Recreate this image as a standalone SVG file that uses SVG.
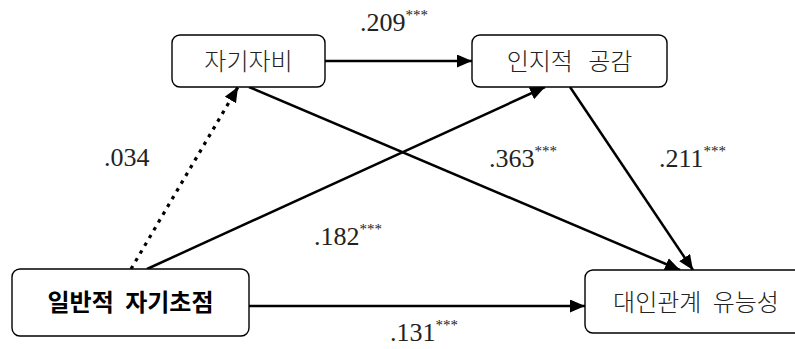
<svg xmlns="http://www.w3.org/2000/svg" width="795" height="349" viewBox="0 0 795 349">
<style>
.box{fill:#fff;stroke:#000;stroke-width:1.4}
.kt{font-family:"Noto Sans CJK KR","Noto Sans",sans-serif;font-size:24px;font-weight:300;fill:#222;text-anchor:middle;word-spacing:6px}
.kb{font-weight:bold;fill:#000}
.num{font-family:"Liberation Serif",serif;font-size:26px;fill:#222}
.st{font-size:15px}
.ln{stroke:#000;stroke-width:2.5;fill:none;marker-end:url(#ah)}
.dot{stroke-dasharray:3.5 5.5;stroke-width:3.2}
</style>
<defs>
<marker id="ah" markerUnits="userSpaceOnUse" markerWidth="16" markerHeight="14" refX="15" refY="6.5" orient="auto">
<path d="M0,0 L15,6.5 L0,13 z" fill="#000"/>
</marker>
</defs>
<g id="connectors">
<path class="ln" d="M325,61 L472,61"/>
<path class="ln dot" d="M131,269 L238,87"/>
<path class="ln" d="M147,269 L545,87"/>
<path class="ln" d="M249,87 L680,270"/>
<path class="ln" d="M570,87 L693,270"/>
<path class="ln" d="M249,306 L585,306"/>
</g>
<g id="n1">
<rect class="box" x="172" y="35" width="153" height="52" rx="8"/>
<text class="kt" x="248.5" y="70">자기자비</text>
</g>
<g id="n2">
<rect class="box" x="472" y="35" width="195" height="52" rx="8"/>
<text class="kt" x="569.5" y="70" style="word-spacing:10px">인지적 공감</text>
</g>
<g id="n3">
<rect class="box" x="12" y="269" width="237" height="67" rx="8"/>
<text class="kt kb" x="130.5" y="311">일반적 자기초점</text>
</g>
<g id="n4">
<rect class="box" x="585" y="270" width="230" height="63" rx="8"/>
<text class="kt" x="696" y="311">대인관계 유능성</text>
</g>
<g id="labels">
<text class="num" x="360" y="31">.209<tspan class="st" dy="-11">***</tspan></text>
<text class="num" x="104" y="166">.034</text>
<text class="num" x="489" y="167">.363<tspan class="st" dy="-11">***</tspan></text>
<text class="num" x="659" y="167">.211<tspan class="st" dy="-11">***</tspan></text>
<text class="num" x="314" y="245">.182<tspan class="st" dy="-11">***</tspan></text>
<text class="num" x="390" y="341">.131<tspan class="st" dy="-11">***</tspan></text>
</g>
</svg>
